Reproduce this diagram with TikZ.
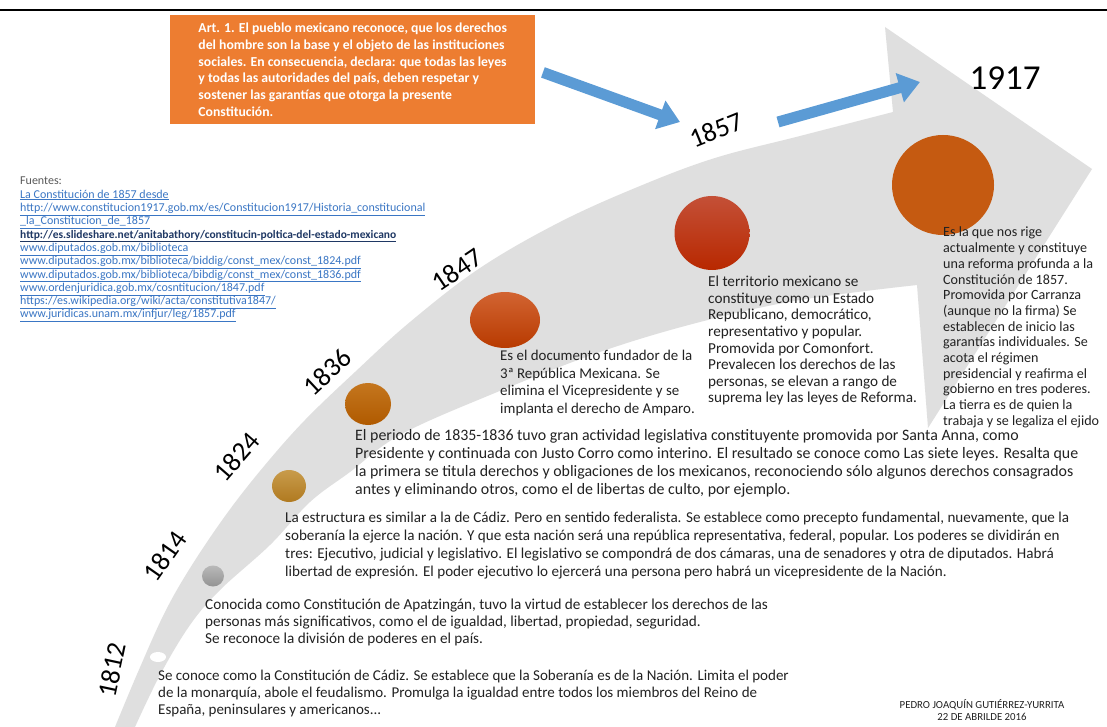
\documentclass[tikz,border=0pt]{standalone}
\usepackage{fontspec}
\setmainfont{Carlito}
\usetikzlibrary{arrows.meta,shapes.geometric}

\definecolor{bandgray}{HTML}{DFDFDF}
\definecolor{artorange}{HTML}{ED7D31}
\definecolor{pointerblue}{HTML}{5B9BD5}
\definecolor{linkblue}{HTML}{3A76C4}
\definecolor{linknavy}{HTML}{1F3864}
\definecolor{bodytext}{HTML}{222222}
\definecolor{srcgray}{HTML}{595959}

\newcommand{\setfs}[2]{\fontsize{#1}{#2}\selectfont}

\begin{document}
\begin{tikzpicture}[x=1pt, y=-1pt,
    year/.style={inner sep=0pt, font=\setfs{27}{27}},
    marker/.style={ellipse, inner sep=0pt},
    note/.style={anchor=north west, align=left, inner sep=0pt, text=bodytext},
    pointer/.style={draw=pointerblue, line width=11pt, -{Triangle[length=21pt, width=29pt]}}
]
\clip (0,0) rectangle (1107,727);
\fill[white] (0,0) rectangle (1107,727);
\draw[line width=2.5pt] (0,10) -- (1107,10);

% curved timeline arrow
\fill[bandgray] plot[smooth, tension=0.6] coordinates {(115,727) (138,672) (165,612) (192,565) (228,512) (265,465) (305,420) (355,372) (410,322) (480,268) (560,222) (640,186) (715,158) (800,136) (893,112)}
  -- (885,27) -- (1092,169) -- (928,428) -- (917,285)
  -- plot[smooth, tension=0.6] coordinates {(917,285) (800,300) (700,322) (600,352) (490,395) (400,435) (350,472) (310,502) (270,545) (220,590) (190,625) (160,675) (135,727)}
  -- cycle;

% markers
\node[marker, minimum width=16, minimum height=10, fill=white] (m1812) at (158,657) {};
\node[marker, minimum width=22, minimum height=21, top color=gray!55, bottom color=gray!85] (m1814) at (213,576) {};
\node[marker, minimum width=34, minimum height=32, top color={rgb,255:red,200;green,155;blue,75}, bottom color={rgb,255:red,176;green,122;blue,32}] (m1824) at (289,486) {};
\node[marker, minimum width=46, minimum height=42, top color={rgb,255:red,196;green,118;blue,30}, bottom color={rgb,255:red,176;green,90;blue,0}] (m1836) at (368,404) {};
\node[marker, minimum width=70, minimum height=56, top color={rgb,255:red,210;green,100;blue,50}, bottom color={rgb,255:red,184;green,58;blue,0}] (m1847) at (505,320) {};
\node[marker, minimum width=75, minimum height=74, top color={rgb,255:red,196;green,80;blue,55}, bottom color={rgb,255:red,184;green,40;blue,0}] (m1857) at (712,233) {};
\node[marker, minimum width=102, minimum height=100, fill={rgb,255:red,197;green,90;blue,17}] (m1917) at (943,185) {};

% years
\node[year, rotate=78] (y1812) at (112,670) {1812};
\node[year, rotate=55] (y1814) at (165,556) {1814};
\node[year, rotate=49] (y1824) at (237,457) {1824};
\node[year, rotate=43] (y1836) at (327,372) {1836};
\node[year, rotate=34] (y1847) at (457,270) {1847};
\node[year, rotate=22] (y1857) at (716,130) {1857};
\node[year, font=\setfs{35}{35}] (y1917) at (1005,78) {1917};

% article 1
\node[fill=artorange, text=white, font=\bfseries\setfs{13.7}{16.8}, align=left, anchor=north west,
      minimum width=365, minimum height=109, inner ysep=5pt] (art) at (170,15)
  {Art. 1. El pueblo mexicano reconoce, que los derechos\\
   del hombre son la base y el objeto de las instituciones\\
   sociales. En consecuencia, declara: que todas las leyes\\
   y todas las autoridades del país, deben respetar y\\
   sostener las garantías que otorga la presente\\
   Constitución.};

\coordinate (p1end) at (680,122);
\coordinate (p2start) at (778,122);
\coordinate (p2end) at (920,82);
\draw[pointer, shorten <=8pt] (art.east) -- (p1end);
\draw[pointer] (p2start) -- (p2end);

% sources
\node[note, text=linkblue, font=\setfs{12}{13.3}] (src) at (20,177)
  {\textcolor{srcgray}{Fuentes:}\\
   \underline{La Constitución de 1857 desde}\\
   \underline{http://www.constitucion1917.gob.mx/es/Constitucion1917/Historia\_constitucional}\\
   \underline{\_la\_Constitucion\_de\_1857}\\
   \textcolor{linknavy}{\bfseries\setfs{11.5}{13.3}\underline{http://es.slideshare.net/anitabathory/constitucin-poltica-del-estado-mexicano}}\\
   \underline{www.diputados.gob.mx/biblioteca}\\
   \underline{www.diputados.gob.mx/biblioteca/biddig/const\_mex/const\_1824.pdf}\\
   \underline{www.diputados.gob.mx/biblioteca/bibdig/const\_mex/const\_1836.pdf}\\
   \underline{www.ordenjuridica.gob.mx/cosntitucion/1847.pdf}\\
   \underline{https://es.wikipedia.org/wiki/acta/constitutiva1847/}\\
   \underline{www.juridicas.unam.mx/infjur/leg/1857.pdf}};

% descriptions
\node[note, font=\setfs{15}{17}] (t1812) at (158,670)
  {Se conoce como la Constitución de Cádiz. Se establece que la Soberanía es de la Nación. Limita el poder\\
   de la monarquía, abole el feudalismo. Promulga la igualdad entre todos los miembros del Reino de\\
   España, peninsulares y americanos...};
\node[note, font=\setfs{15.2}{17}] (t1814) at (205,599)
  {Conocida como Constitución de Apatzingán, tuvo la virtud de establecer los derechos de las\\
   personas más significativos, como el de igualdad, libertad, propiedad, seguridad.\\
   Se reconoce la división de poderes en el país.};
\node[note, font=\setfs{15.1}{18}] (t1824) at (285,512)
  {La estructura es similar a la de Cádiz. Pero en sentido federalista. Se establece como precepto fundamental, nuevamente, que la\\
   soberanía la ejerce la nación. Y que esta nación será una república representativa, federal, popular. Los poderes se dividirán en\\
   tres: Ejecutivo, judicial y legislativo. El legislativo se compondrá de dos cámaras, una de senadores y otra de diputados. Habrá\\
   libertad de expresión. El poder ejecutivo lo ejercerá una persona pero habrá un vicepresidente de la Nación.};
\node[note, font=\setfs{15.9}{18}] (t1836) at (355,429)
  {El periodo de 1835-1836 tuvo gran actividad legislativa constituyente promovida por Santa Anna, como\\
   Presidente y continuada con Justo Corro como interino. El resultado se conoce como Las siete leyes. Resalta que\\
   la primera se titula derechos y obligaciones de los mexicanos, reconociendo sólo algunos derechos consagrados\\
   antes y eliminando otros, como el de libertas de culto, por ejemplo.};
\node[note, font=\setfs{14.9}{17.7}] (t1847) at (500,350)
  {Es el documento fundador de la\\
   3ª República Mexicana. Se\\
   elimina el Vicepresidente y se\\
   implanta el derecho de Amparo.};
\node[note, font=\setfs{15.2}{16.6}] (t1857) at (708,276)
  {El territorio mexicano se\\
   constituye como un Estado\\
   Republicano, democrático,\\
   representativo y popular.\\
   Promovida por Comonfort.\\
   Prevalecen los derechos de las\\
   personas, se elevan a rango de\\
   suprema ley las leyes de Reforma.};
\node[note, font=\setfs{14.1}{15.7}] (t1917) at (943,227)
  {Es la que nos rige\\
   actualmente y constituye\\
   una reforma profunda a la\\
   Constitución de 1857.\\
   Promovida por Carranza\\
   (aunque no la firma) Se\\
   establecen de inicio las\\
   garantías individuales. Se\\
   acota el régimen\\
   presidencial y reafirma el\\
   gobierno en tres poderes.\\
   La tierra es de quien la\\
   trabaja y se legaliza el ejido};

% signature
\node[align=center, inner sep=0pt, text=bodytext, font=\setfs{10.8}{12}] (sign) at (982,710)
  {PEDRO JOAQUÍN GUTIÉRREZ-YURRITA\\ 22 DE ABRILDE 2016};
\end{tikzpicture}
\end{document}
